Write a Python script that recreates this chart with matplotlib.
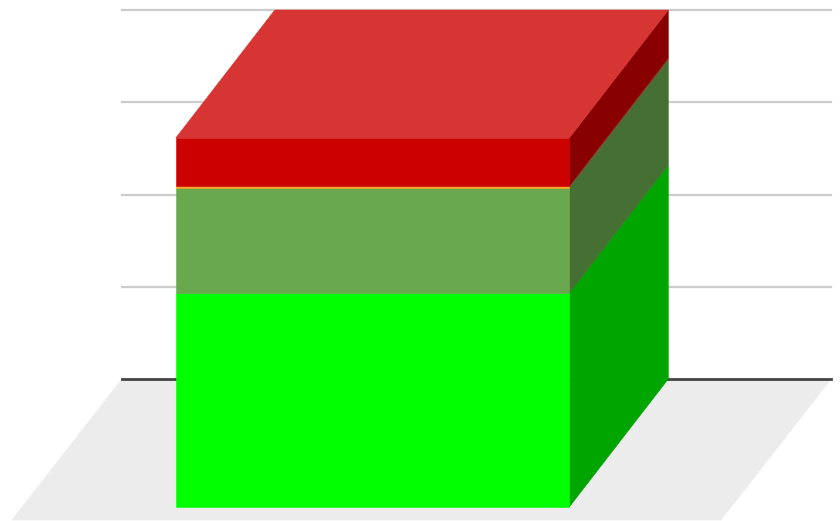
import matplotlib
matplotlib.use("Agg")
import matplotlib.pyplot as plt
from matplotlib.patches import Polygon
from matplotlib.transforms import IdentityTransform
import numpy as np

# ---- data ----
categories = [""]
series_names = ["A", "B", "C", "D"]
series_values = [58.0, 28.5, 0.5, 13.0]
front_colors = ["#00ff00", "#6aa84f", "#f6a623", "#cc0000"]
side_colors = ["#00a500", "#466f34", "#7a4a20", "#880000"]
top_colors = ["#00cc00", "#88c070", "#f8b850", "#d63533"]
y_ticks = [0, 25, 50, 75, 100]

W, H, DPI = 840, 521, 100
fig = plt.figure(figsize=(W / DPI, H / DPI), dpi=DPI)
fig.patch.set_facecolor("white")
ax = fig.add_axes([122 / W, 142 / H, 709 / W, 369 / H])
ax.set_xlim(-0.493, 0.507)
ax.set_ylim(0, 100)
ax.axis("off")
ax.set_zorder(2)

# depth offsets (display pixels, back -> front)
bar_dx, bar_dy = -99, -128
floor_dx, floor_dy = -110, -141


def to_disp(x, y, dx=0, dy=0):
    px, py = ax.transData.transform((x, y))
    return (px + dx, py + dy)


def add_poly(pts, color, z):
    p = Polygon(pts, closed=True, facecolor=color, edgecolor=color, lw=0.4,
                transform=IdentityTransform(), zorder=z)
    fig.add_artist(p)


# floor
x0, x1 = ax.get_xlim()
floor = [to_disp(x0, 0), to_disp(x1, 0), to_disp(x1, 0, floor_dx, floor_dy),
         to_disp(x0, 0, floor_dx, floor_dy)]
add_poly(floor, "#ececec", 1)

# gridlines on back wall
for t in y_ticks[1:]:
    ax.axhline(t, color="#cccccc", lw=1.6, zorder=2, clip_on=False)
ax.axhline(0, color="#444444", lw=2.0, zorder=3, clip_on=False)

# stacked 3D bar
bw = 0.555
for ci, cat in enumerate(categories):
    xc = ci
    xl, xr = xc - bw / 2, xc + bw / 2
    bottom = 0.0
    n = len(series_values)
    for si, v in enumerate(series_values):
        top = bottom + v
        # side face
        side = [to_disp(xr, bottom, bar_dx, bar_dy), to_disp(xr, bottom),
                to_disp(xr, top), to_disp(xr, top, bar_dx, bar_dy)]
        add_poly(side, side_colors[si], 5)
        # front face
        front = [to_disp(xl, bottom, bar_dx, bar_dy), to_disp(xr, bottom, bar_dx, bar_dy),
                 to_disp(xr, top, bar_dx, bar_dy), to_disp(xl, top, bar_dx, bar_dy)]
        add_poly(front, front_colors[si], 6)
        if si == n - 1:
            topface = [to_disp(xl, top, bar_dx, bar_dy), to_disp(xr, top, bar_dx, bar_dy),
                       to_disp(xr, top), to_disp(xl, top)]
            add_poly(topface, top_colors[si], 5)
        bottom = top

fig.savefig("out.png", dpi=DPI)
